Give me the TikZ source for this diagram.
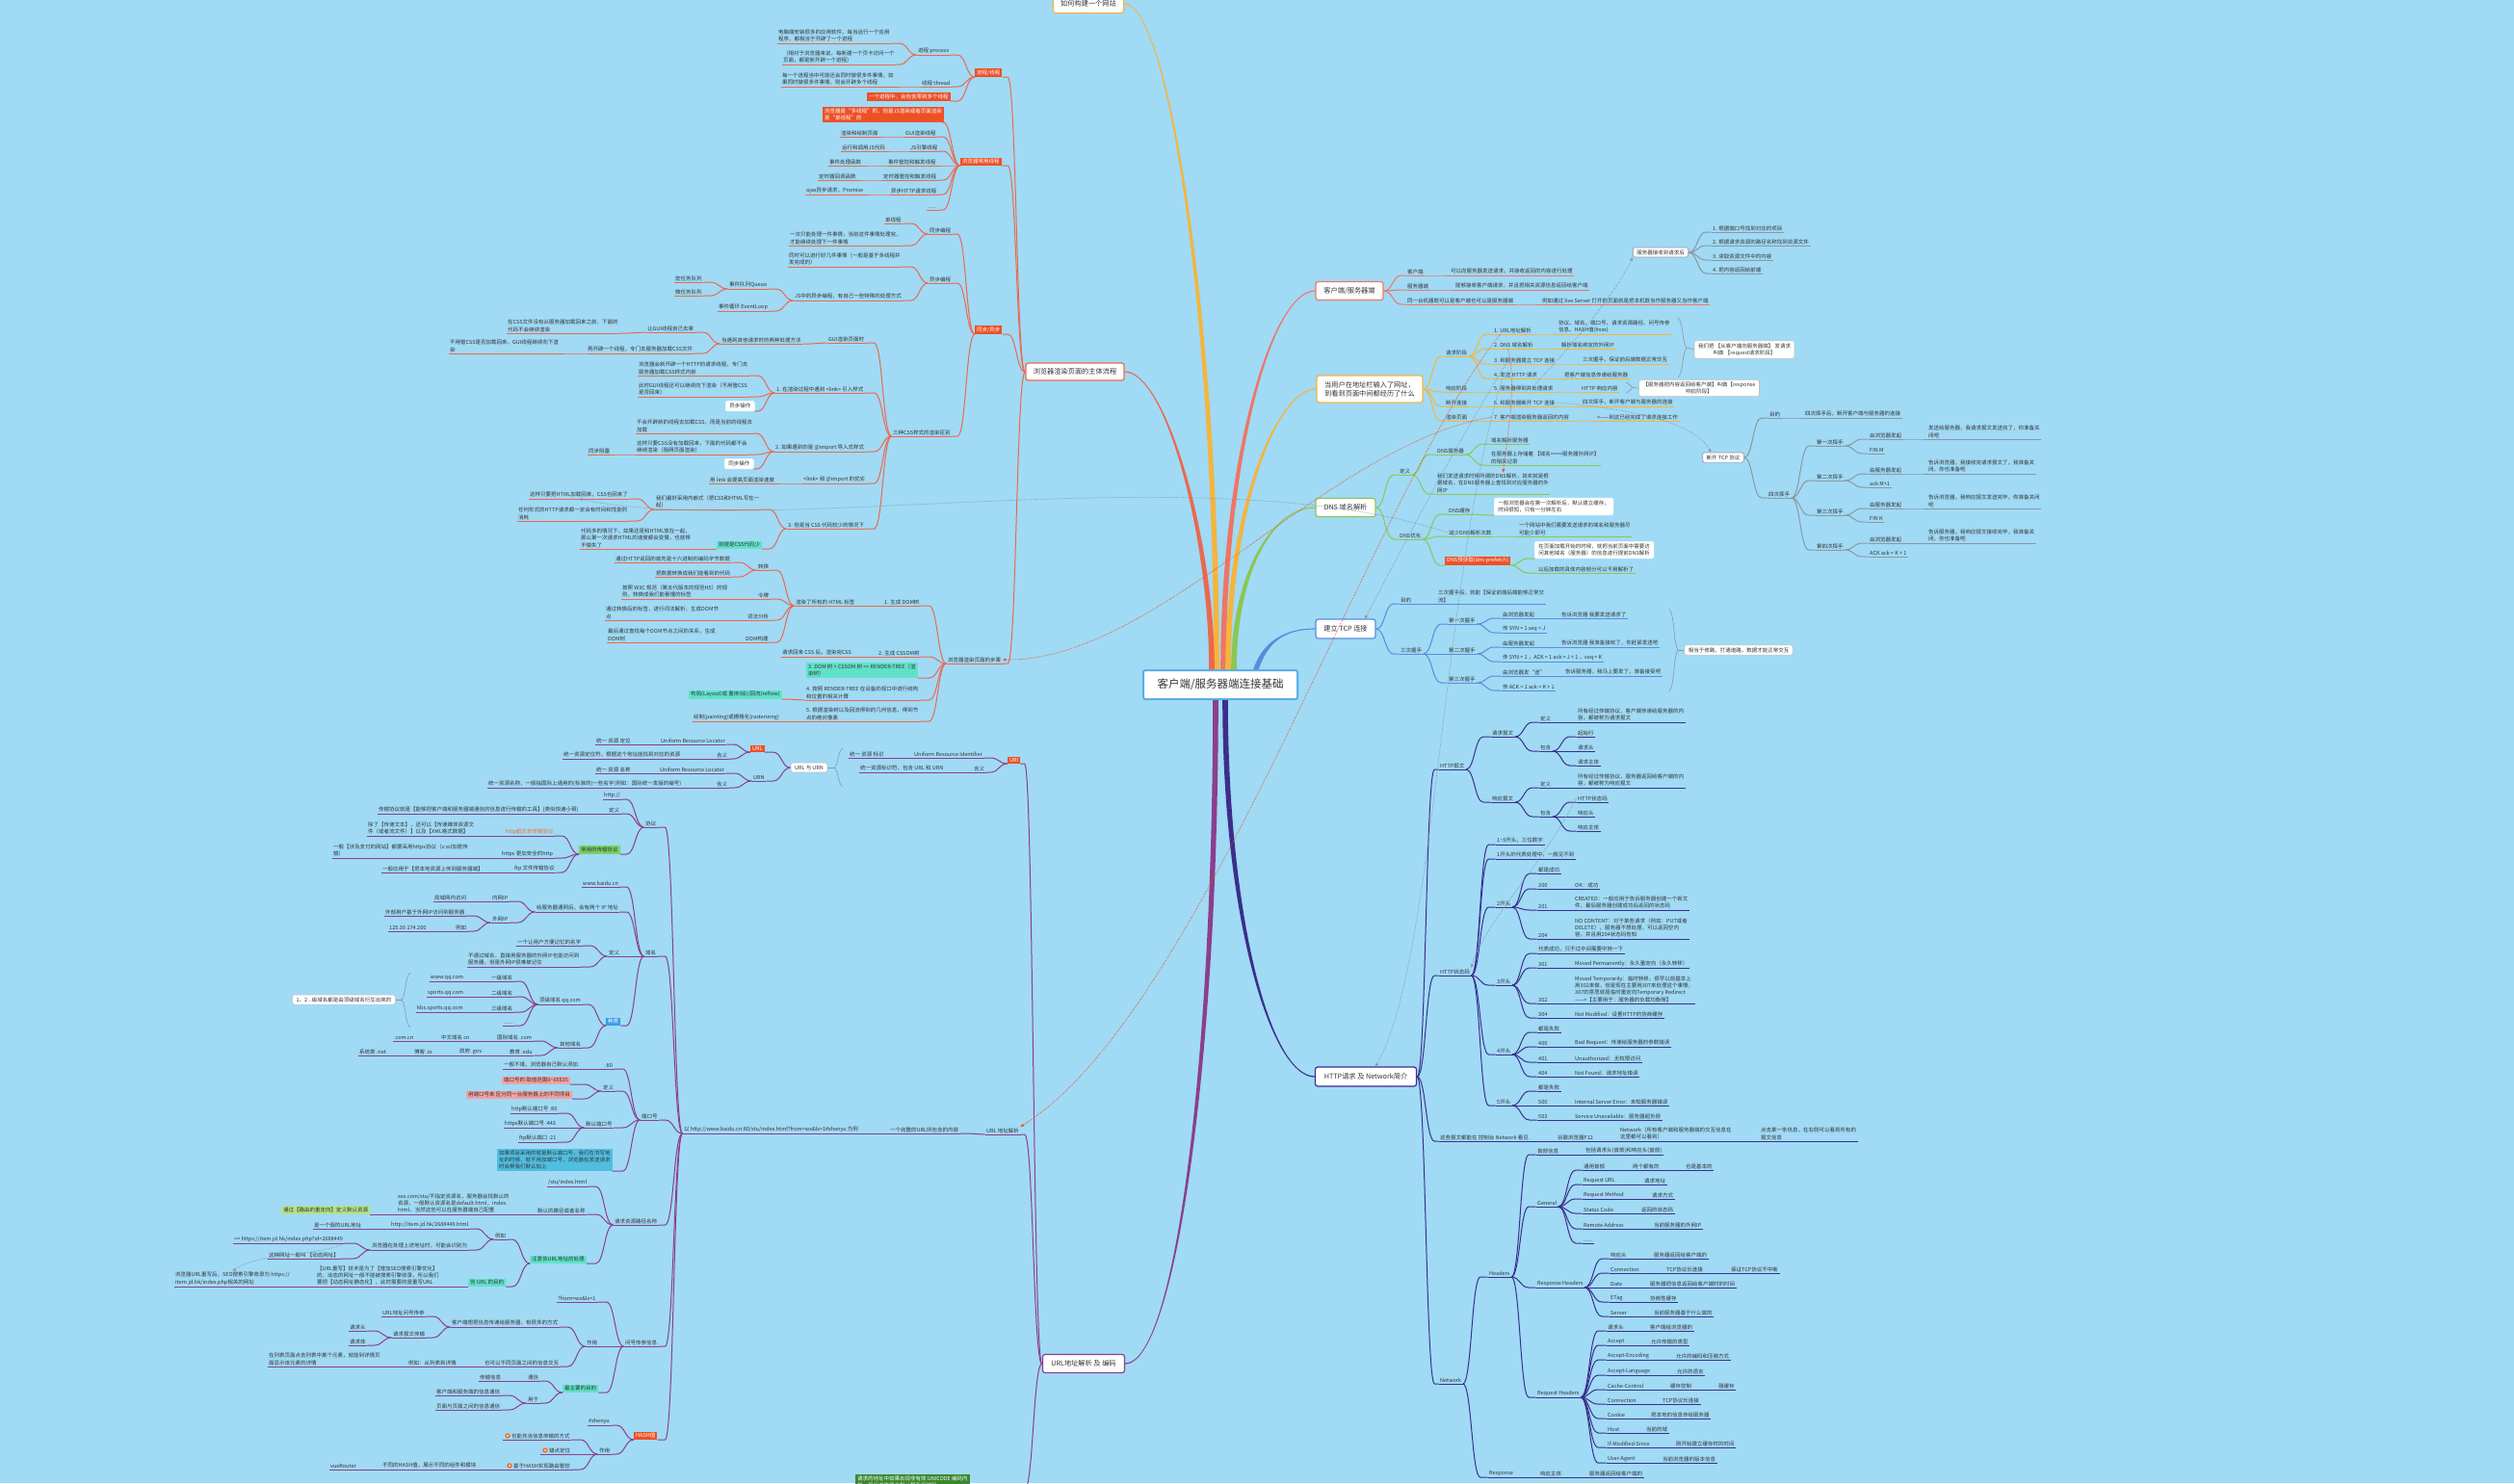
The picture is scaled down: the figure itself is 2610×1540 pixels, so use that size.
\documentclass[tikz,border=0pt]{standalone}
\usepackage{fontspec}
\setmainfont{Noto Sans CJK SC}
\usetikzlibrary{calc,arrows.meta}

\definecolor{bg}{RGB}{160,218,245}
\definecolor{txt}{RGB}{51,51,51}
\definecolor{brred}{RGB}{236,104,78}
\definecolor{boxred}{RGB}{238,80,38}
\definecolor{salmon}{RGB}{239,117,102}
\definecolor{yel}{RGB}{245,180,60}
\definecolor{grn}{RGB}{140,198,85}
\definecolor{blu}{RGB}{88,140,218}
\definecolor{navy}{RGB}{60,46,140}
\definecolor{purp}{RGB}{140,62,140}
\definecolor{tealbox}{RGB}{96,226,200}
\definecolor{pinkbox}{RGB}{245,160,160}
\definecolor{cyanbox}{RGB}{80,190,225}
\definecolor{lgbox}{RGB}{180,225,140}
\definecolor{gbox}{RGB}{120,210,100}
\definecolor{bbox}{RGB}{60,155,230}
\definecolor{dgbox}{RGB}{58,135,50}
\definecolor{gry}{RGB}{140,150,160}
\definecolor{cenb}{RGB}{90,175,230}
\definecolor{orng}{RGB}{240,110,40}

\newcommand\smtxt{\fontsize{5.5}{7.2}\selectfont}
% left and right branch connectors, parent -> child
\newcommand\lcon[2]{\draw[cn] (#1.south west) .. controls +(-9,0) and +(9,0) .. ($(#1.south west |- #2.south east)+(-18,0)$) -- (#2.south east);}
\newcommand\rcon[2]{\draw[cn] (#1.south east) .. controls +(9,0) and +(-9,0) .. ($(#1.south east |- #2.south west)+(18,0)$) -- (#2.south west);}
% tapered main branch: colour, start, control 1, control 2, end node anchor, end half width
\newcommand\branchfill[6]{\fill[#1] ($#2+(-2.8,0)$) .. controls +#3 and +#4 .. ($(#5)+(0,#6)$) -- ($(#5)-(0,#6)$) .. controls +#4 and +#3 .. ($#2+(2.8,0)$) -- cycle;}

\tikzset{
  tp/.style={anchor=south west, xshift=-1.5pt, inner xsep=1.5pt, inner ysep=1.3pt, font=\smtxt, text=txt, align=left,
    append after command={(\tikzlastnode.south west) edge[ul] (\tikzlastnode.south east)}},
  ul/.style={draw=br, line width=1pt},
  cn/.style={draw=br, line width=1pt},
  bx/.style={anchor=south west, fill=#1, inner xsep=2pt, inner ysep=1.6pt, font=\smtxt, text=txt, align=left},
  rbx/.style={bx=boxred, text=white},
  wbx/.style={anchor=south west, fill=white, draw=#1, line width=.6pt, rounded corners=1.5pt, inner xsep=4pt, inner ysep=2.5pt, font=\smtxt, text=txt, align=left},
  lone/.style={fill=white, draw=#1, line width=1.2pt, rounded corners=2.5pt, font=\fontsize{7.2}{9}\selectfont, text=txt, inner sep=0pt, align=left},
  jn/.style={inner sep=0pt, minimum size=0pt},
  rel/.style={densely dotted, line width=.7pt, -{Triangle[length=3.5pt,width=3pt]}},
  brk/.style={draw=gry, line width=.6pt},
}

\begin{document}
\begin{tikzpicture}[x=1pt,y=-1pt]
\fill[bg] (0,0) rectangle (2610,1540);
\useasboundingbox (0,0) rectangle (2610,1540);

\node[fill=white, draw=cenb, line width=2pt, rounded corners=2pt, minimum width=160pt, minimum height=30pt, text=txt, font=\fontsize{11.5}{13}\selectfont] (root) at (1267,711) {客户端/服务器端连接基础};

%% ---------- 浏览器渲染页面的主体流程 ----------
\begin{scope}
\colorlet{br}{brred}
\node[lone=brred, minimum width=102pt, minimum height=18pt] (br) at (1116,386) {浏览器渲染页面的主体流程};
\node[jn] (brL) at (br.west) {};
\node[rbx] (pt) at (1012,80) {进程/线程};
\node[rbx] (bt) at (997,172) {浏览器常用线程};
\node[rbx] (sy) at (1012,347) {同步/异步};
\node[tp] (css) at (927,453) {三种CSS样式的渲染区别};
\node[tp] (stp) at (984,689) {浏览器渲染页面的步骤};

\node[tp] (pp) at (953,57) {进程 process};
\node[tp] (pth) at (957,90) {线程 thread};
\node[rbx] (pz) at (900,105) {一个进程中，会包含零到多个线程};
\node[tp] (pp1) at (808,45) {电脑端安装很多的应用软件，每当运行一个应用\\程序，都相当于开辟了一个进程};
\node[tp] (pp2) at (813,67) {（相对于浏览器来说，每新建一个页卡访问一个\\页面，都是新开辟一个进程）};
\node[tp] (pth1) at (812,90) {每一个进程当中可能还会同时做很多件事情，如\\果同时做很多件事情，则会开辟多个线程};

\node[rbx] (bt0) at (854,127) {浏览器是“多线程”的，但是JS渲染或者页面渲染\\是“单线程”的};
\node[tp] (bt1) at (940,142) {GUI渲染线程};
\node[tp] (bt2) at (945,157) {JS引擎线程};
\node[tp] (bt3) at (922,172) {事件管控和触发线程};
\node[tp] (bt4) at (917,187) {定时器管控和触发线程};
\node[tp] (bt5) at (925,202) {异步HTTP请求线程};
\node[tp] (bt6) at (963,218) {......};
\node[tp] (bt1a) at (873,142) {渲染和绘制页面};
\node[tp] (bt2a) at (874,157) {运行和调用JS代码};
\node[tp] (bt3a) at (861,172) {事件处理函数};
\node[tp] (bt4a) at (850,187) {定时器回调函数};
\node[tp] (bt5a) at (837,202) {ajax异步请求，Promise};

\node[tp] (sy1) at (965,243) {同步编程};
\node[tp] (sy2) at (965,294) {异步编程};
\node[tp] (sy1a) at (919,232) {单线程};
\node[tp] (sy1b) at (820,255) {一次只能处理一件事情，当前这件事情处理完，\\才能继续处理下一件事情};
\node[tp] (sy2a) at (819,277) {同时可以进行好几件事情（一般是基于多线程并\\发完成的）};
\node[tp] (sy2b) at (825,312) {JS中的异步编程，有自己一些特殊的处理方式};
\node[tp] (q1) at (757,300) {事件队列Queue};
\node[tp] (q2) at (746,323) {事件循环 EventLoop};
\node[tp] (q1a) at (701,293) {宏任务队列};
\node[tp] (q1b) at (701,307) {微任务队列};

\node[tp] (c0) at (860,356) {GUI渲染页面时};
\node[tp] (c1) at (806,408) {1. 在渲染过程中遇到 <link> 引入样式};
\node[tp] (c2) at (805,469) {2. 如果遇到的是 @import 导入式样式};
\node[tp] (c3) at (834,502) {<link> 和 @import 的优劣};
\node[tp] (c4) at (818,549) {3. 但是当 CSS 代码较少的情况下};
\node[tp] (c0a) at (749,357) {当遇到其他请求时的两种处理方法};
\node[tp] (c0a1) at (672,345) {让GUI线程自己去拿};
\node[tp] (c0a2) at (610,367) {再开辟一个线程，专门去服务器加载CSS文件};
\node[tp] (c0a1a) at (527,346) {在CSS文件没有从服务器加载回来之前，下面的\\代码不会继续渲染};
\node[tp] (c0a2a) at (467,367) {不用管CSS是否加载回来，GUI线程继续向下渲\\染};
\node[tp] (c1a) at (663,390) {浏览器会新开辟一个HTTP的请求线程，专门去\\服务器加载CSS样式内容};
\node[tp] (c1b) at (663,412) {此时GUI线程还可以继续向下渲染（不用管CSS\\是否回来）};
\node[wbx=white] (c1c) at (753,427) {异步操作};
\node[tp] (c2a) at (661,450) {不会开辟新的线程去加载CSS，而是当前的线程去\\加载};
\node[tp] (c2b) at (661,472) {这样只要CSS没有加载回来，下面的代码都不会\\继续渲染（阻碍页面渲染）};
\node[wbx=white] (c2c) at (752,487) {同步操作};
\node[tp] (c2b1) at (611,472) {同步阻塞};
\node[tp] (c3a) at (737,502) {用 link 会提高页面渲染速度};
\node[tp] (c4a) at (681,529) {我们最好采用内嵌式（把CSS和HTML写在一\\起）};
\node[bx=tealbox] (c4b) at (744,570) {前提是CSS代码少};
\node[tp] (c4a1) at (550,518) {这样只要把HTML加载回来，CSS也回来了};
\node[tp] (c4a2) at (538,541) {任何形式的HTTP请求都一定会有时间和性能的\\消耗};
\node[tp] (c4b1) at (603,570) {代码多的情况下，如果还是和HTML放在一起，\\那么第一次请求HTML的速度都会变慢，也就得\\不偿失了};

\node[tp] (s1) at (918,629) {1. 生成 DOM树};
\node[tp] (s2) at (912,682) {2. 生成 CSSOM树};
\node[bx=tealbox] (s3) at (837,704) {3. DOM 树 + CSSOM 树 => RENDER-TREE（渲\\染树）};
\node[tp] (s4) at (837,727) {4. 按照 RENDER-TREE 在设备的视口中进行结构\\和位置的相关计算};
\node[tp] (s5) at (837,749) {5. 根据渲染树以及回流得到的几何信息，得到节\\点的绝对像素};
\node[tp] (s1a) at (826,629) {渲染了所有的 HTML 标签};
\node[tp] (s1a1) at (787,592) {转换};
\node[tp] (s1a2) at (787,622) {令牌};
\node[tp] (s1a3) at (776,644) {词法分析};
\node[tp] (s1a4) at (774,667) {DOM构建};
\node[tp] (t1) at (639,584) {通过HTTP返回的首先是十六进制的编码字节数据};
\node[tp] (t2) at (681,599) {把数据转换成我们能看到的代码};
\node[tp] (t3) at (646,622) {按照 W3C 规范（第五代版本的规范H5）的规\\则，转换成我们能看懂的标签};
\node[tp] (t4) at (629,644) {通过转换后的标签，进行词法解析，生成DOM节\\点};
\node[tp] (t5) at (631,667) {最后通过查找每个DOM节点之间的关系，生成\\DOM树};
\node[tp] (s2a) at (812,682) {请求回来 CSS 后，渲染完CSS};
\node[bx=tealbox] (s4a) at (715,726) {布局(Layout)或 重排(绘)/回流(reflow)};
\node[tp] (s5a) at (720,749) {绘制(painting)或栅格化(rasterizing)};

\foreach \pa/\ch in {brL/pt,brL/bt,brL/sy,brL/stp,pt/pp,pt/pth,pt/pz,pp/pp1,pp/pp2,pth/pth1,
  bt/bt0,bt/bt1,bt/bt2,bt/bt3,bt/bt4,bt/bt5,bt/bt6,bt1/bt1a,bt2/bt2a,bt3/bt3a,bt4/bt4a,bt5/bt5a,
  sy/sy1,sy/sy2,sy/css,sy1/sy1a,sy1/sy1b,sy2/sy2a,sy2/sy2b,sy2b/q1,sy2b/q2,q1/q1a,q1/q1b,
  css/c0,css/c1,css/c2,css/c3,css/c4,c0/c0a,c0a/c0a1,c0a/c0a2,c0a1/c0a1a,c0a2/c0a2a,
  c1/c1a,c1/c1b,c1/c1c,c2/c2a,c2/c2b,c2/c2c,c2b/c2b1,c3/c3a,c4/c4a,c4/c4b,c4a/c4a1,c4a/c4a2,c4b/c4b1,
  stp/s1,stp/s2,stp/s3,stp/s4,stp/s5,s1/s1a,s1a/s1a1,s1a/s1a2,s1a/s1a3,s1a/s1a4,
  s1a1/t1,s1a1/t2,s1a2/t3,s1a3/t4,s1a4/t5,s2/s2a,s4/s4a,s5/s5a}{\lcon{\pa}{\ch}}
\end{scope}

%% ---------- URL地址解析 及 编码 ----------
\begin{scope}
\colorlet{br}{purp}
\node[lone=purp, minimum width=85pt, minimum height=19pt] (url) at (1125,1416) {URL地址解析 及 编码};
\node[jn] (urlL) at (url.west) {};
\node[rbx] (uri) at (1046,793) {URI};
\node[tp] (ua) at (1024,1178) {URL 地址解析};
\node[bx=dgbox, text=white, anchor=north west] (uc) at (888,1531) {请求的地址中如果出现非有效 UNICODE 编码内\\容，现代浏览器会默认帮我们编码};
\node[tp] (uri1) at (949,787) {Uniform Resource Identifier};
\node[tp] (uri2) at (1011,802) {含义};
\node[tp] (uri1a) at (882,787) {统一 资源 标识};
\node[tp] (uri2a) at (893,802) {统一资源标识符，包含 URL 和 URN};

\node[wbx=gry!60, anchor=center] (urlurn) at (840,797) {URL 与 URN};
\node[jn] (uuL) at (urlurn.west) {};
\node[rbx] (urlb) at (779,781) {URL};
\node[tp] (urn) at (782,811) {URN};
\node[tp] (urlb1) at (686,773) {Uniform Resource Locator};
\node[tp] (urlb2) at (744,788) {含义};
\node[tp] (urlb1a) at (619,773) {统一 资源 定位};
\node[tp] (urlb2a) at (585,788) {统一资源定位符，根据这个地址能找到对应的资源};
\node[tp] (urn1) at (685,803) {Uniform Resource Locator};
\node[tp] (urn2) at (744,818) {含义};
\node[tp] (urn1a) at (619,803) {统一 资源 名称};
\node[tp] (urn2a) at (507,818) {统一资源名称，一般指国际上通用的(标准的)一些名字(例如：国际统一发版的编号)};

\node[tp] (ua1) at (924,1177) {一个完整的URL所包含的内容};
\node[tp] (ua2) at (710,1177) {以 http://www.baidu.cn:80/stu/index.html?from=wx\&lx=1\#zhenyu 为例};
\node[tp] (p1) at (670,859) {协议};
\node[tp] (p2) at (670,993) {域名};
\node[tp] (p3) at (666,1163) {端口号};
\node[tp] (p4) at (638,1272) {请求资源路径名称};
\node[tp] (p5) at (649,1398) {问号传参信息};
\node[rbx] (p6) at (658,1495) {HASH值};

\node[tp] (p1a) at (627,830) {http://};
\node[tp] (p1b) at (632,845) {定义};
\node[bx=gbox] (p1c) at (601,887) {常用的传输协议};
\node[tp] (p1b1) at (393,845) {传输协议就是【能够把客户端和服务器端通信的信息进行传输的工具】(类似快递小哥)};
\node[tp, text=orng] (h1) at (525,868) {http超文本传输协议};
\node[tp] (h2) at (521,891) {https 更加安全的http};
\node[tp] (h3) at (534,906) {ftp 文件传输协议};
\node[tp] (h1a) at (382,868) {除了【传递文本】，还可以【传递媒体资源文\\件（或者流文件）】以及【XML格式数据】};
\node[tp] (h2a) at (346,891) {一般【涉及支付的网站】都要采用https协议（s:ssl加密传\\输）};
\node[tp] (h3a) at (397,906) {一般应用于【把本地资源上传到服务器端】};

\node[tp] (d1) at (605,921) {www.baidu.cn};
\node[tp] (d2) at (557,947) {给服务器通网后，会有两个 IP 地址};
\node[tp] (d3) at (632,993) {定义};
\node[bx=bbox, text=white] (d4) at (629,1065) {种类};
\node[tp] (d2a) at (511,936) {内网IP};
\node[tp] (d2b) at (511,958) {外网IP};
\node[tp] (d2a1) at (451,936) {局域网内访问};
\node[tp] (d2b1) at (400,951) {外部用户基于外网IP访问到服务器};
\node[tp] (d2b2) at (473,967) {例如};
\node[tp] (d2b2a) at (404,967) {125.39.174.200};
\node[tp] (d3a) at (537,982) {一个让用户方便记忆的名字};
\node[tp] (d3b) at (486,1004) {不通过域名，直接用服务器的外网IP也能访问到\\服务器，但是外网IP很难被记住};
\node[tp] (k1) at (560,1043) {顶级域名 qq.com};
\node[tp] (k2) at (581,1088) {其他域名};
\node[tp] (k1a) at (510,1019) {一级域名};
\node[tp] (k1b) at (510,1035) {二级域名};
\node[tp] (k1c) at (510,1051) {三级域名};
\node[tp] (k1d) at (523,1065) {......};
\node[tp] (k1a1) at (447,1019) {www.qq.com};
\node[tp] (k1b1) at (444,1035) {sports.qq.com};
\node[tp] (k1c1) at (433,1051) {kbs.sports.qq.com};
\node[wbx=gry!60, anchor=center] (dsum) at (357,1038) {1、2...级域名都是由顶级域名衍生出来的};
\node[tp] (k2a) at (516,1081) {国际域名 .com};
\node[tp] (k2a1) at (458,1081) {中文域名 cn};
\node[tp] (k2a2) at (409,1081) {.com.cn};
\node[tp] (k2b) at (529,1096) {教育 .edu};
\node[tp] (k2b1) at (477,1096) {政府 .gov};
\node[tp] (k2b2) at (430,1096) {博客 .io};
\node[tp] (k2b3) at (373,1096) {系统类 .net};

\node[tp] (o1) at (628,1110) {:80};
\node[tp] (o2) at (626,1133) {定义};
\node[tp] (o3) at (608,1171) {默认端口号};
\node[bx=cyanbox] (o4) at (516,1216) {如果项目采用的就是默认端口号，我们在书写地\\址的时候，就不用加端口号，浏览器在发送请求\\时会帮我们默认加上};
\node[tp] (o1a) at (523,1110) {一般不填，浏览器自己默认添加};
\node[bx=pinkbox] (o2a) at (521,1126) {端口号的 取值范围0\textasciitilde65535};
\node[bx=pinkbox] (o2b) at (484,1141) {用端口号来 区分同一台服务器上的不同项目};
\node[tp] (o3a) at (531,1156) {http默认端口号 :80};
\node[tp] (o3b) at (524,1171) {https默认端口号 :443};
\node[tp] (o3c) at (539,1186) {ftp默认端口 :21};

\node[tp] (r1) at (569,1232) {/stu/index.html};
\node[tp] (r2) at (558,1261) {默认的路径或者名称};
\node[bx=tealbox] (r3) at (550,1312) {注意伪URL地址的处理};
\node[tp] (r2a) at (413,1261) {xxx.com/stu/不指定资源名，服务器会找默认的\\资源，一般默认资源名是default.html，index.\\html，当然这些可以在服务器端自己配置};
\node[bx=lgbox] (r2a1) at (292,1261) {通过【路由的重定向】定义默认资源};
\node[tp] (r3a) at (514,1287) {例如};
\node[bx=tealbox] (r3b) at (486,1336) {伪 URL 的目的};
\node[tp] (r3a1) at (406,1276) {http://item.jd.hk/2688449.html};
\node[tp] (r3a1a) at (326,1276) {是一个假的URL地址};
\node[tp] (r3a2) at (386,1298) {浏览器在处理上述地址时，可能会识别为};
\node[tp] (r3a2a) at (243,1291) {=> https://item.jd.hk/index.php?id=2688449};
\node[tp] (r3a2b) at (279,1307) {这种网址一般叫 【动态网址】};
\node[tp] (r3b1) at (329,1336) {【URL重写】技术是为了【增加SEO搜索引擎优化】\\的，动态的网址一般不能被搜索引擎收录，所以我们\\要把【动态网址静态化】，此时需要的是重写URL};
\node[tp] (r3b1a) at (182,1336) {浏览器URL重写后，SEO搜索引擎收录为 https://\\item.jd.hk/index.php相关的网址};

\node[tp] (w1) at (579,1352) {?from=wx\&lx=1};
\node[tp] (w2) at (609,1398) {作用};
\node[bx=tealbox] (w3) at (584,1446) {最主要的目的};
\node[tp] (w2a) at (469,1378) {客户端想把信息传递给服务器，有很多的方式};
\node[tp] (w2a1) at (397,1367) {URL地址问号传参};
\node[tp] (w2a2) at (408,1389) {请求报文传输};
\node[tp] (w2a2a) at (363,1382) {请求头};
\node[tp] (w2a2b) at (363,1397) {请求体};
\node[tp] (w2b) at (503,1419) {也可以不同页面之间的信息交互};
\node[tp] (w2b1) at (424,1419) {例如：从列表到详情};
\node[tp] (w2b1a) at (279,1419) {在列表页面点击列表中某个元素，就能到详情页\\面显示该元素的详情};
\node[tp] (w3a) at (548,1434) {通信};
\node[tp] (w3a1) at (498,1434) {传输信息};
\node[tp] (w3b) at (548,1457) {用于};
\node[tp] (w3b1) at (453,1449) {客户端和服务端的信息通信};
\node[tp] (w3b2) at (453,1464) {页面与页面之间的信息通信};

\node[tp] (x1) at (611,1480) {\#zhenyu};
\node[tp] (x2) at (622,1510) {作用};
\node[tp] (x2a) at (523,1495) {\hspace*{8pt}也能充当信息传输的方式};
\node[tp] (x2b) at (562,1510) {\hspace*{8pt}锚点定位};
\node[tp] (x2c) at (525,1526) {\hspace*{8pt}基于HASH实现路由管控};
\node[tp] (x2c1) at (397,1526) {不同的HASH值，展示不同的组件和模块};
\node[tp] (x2c2) at (343,1526) {vueRouter};
\foreach \nn in {x2a,x2b,x2c}{
  \fill[orng] ($(\nn.west)+(5.5,0)$) circle (2.7pt);
  \fill[white] ($(\nn.west)+(5.5,0)$) circle (1pt);}

\foreach \pa/\ch in {urlL/uri,urlL/ua,urlL/uc,uri/uri1,uri/uri2,uri1/uri1a,uri2/uri2a,
  uuL/urlb,uuL/urn,urlb/urlb1,urlb/urlb2,urlb1/urlb1a,urlb2/urlb2a,urn/urn1,urn/urn2,urn1/urn1a,urn2/urn2a,
  ua/ua1,ua1/ua2,ua2/p1,ua2/p2,ua2/p3,ua2/p4,ua2/p5,ua2/p6,
  p1/p1a,p1/p1b,p1/p1c,p1b/p1b1,p1c/h1,p1c/h2,p1c/h3,h1/h1a,h2/h2a,h3/h3a,
  p2/d1,p2/d2,p2/d3,p2/d4,d2/d2a,d2/d2b,d2a/d2a1,d2b/d2b1,d2b/d2b2,d2b2/d2b2a,d3/d3a,d3/d3b,
  d4/k1,d4/k2,k1/k1a,k1/k1b,k1/k1c,k1/k1d,k1a/k1a1,k1b/k1b1,k1c/k1c1,
  k2/k2a,k2/k2b,k2a/k2a1,k2a1/k2a2,k2b/k2b1,k2b1/k2b2,k2b2/k2b3,
  p3/o1,p3/o2,p3/o3,p3/o4,o1/o1a,o2/o2a,o2/o2b,o3/o3a,o3/o3b,o3/o3c,
  p4/r1,p4/r2,p4/r3,r2/r2a,r2a/r2a1,r3/r3a,r3/r3b,r3a/r3a1,r3a/r3a2,r3a1/r3a1a,r3a2/r3a2a,r3a2/r3a2b,r3b/r3b1,r3b1/r3b1a,
  p5/w1,p5/w2,p5/w3,w2/w2a,w2/w2b,w2a/w2a1,w2a/w2a2,w2a2/w2a2a,w2a2/w2a2b,w2b/w2b1,w2b1/w2b1a,
  w3/w3a,w3/w3b,w3a/w3a1,w3b/w3b1,w3b/w3b2,
  p6/x1,p6/x2,x2/x2a,x2/x2b,x2/x2c,x2c/x2c1,x2c1/x2c2}{\lcon{\pa}{\ch}}

% summaries
\draw[brk] (875,777) .. controls (869,781) and (871,794) .. (866,797) .. controls (871,800) and (869,813) .. (875,817);
\draw[brk] (866,797) -- (urlurn.east);
\draw[brk] (426,1010) .. controls (420,1015) and (422,1032) .. (417,1038) .. controls (422,1044) and (420,1062) .. (426,1067);
\draw[brk] (417,1038) -- (dsum.east);
\draw[rel, draw=gry] (r3a2a.south east) .. controls (330,1305) and (270,1300) .. (r3b1a.north);
\end{scope}

%% ---------- 客户端/服务器端 ----------
\begin{scope}
\colorlet{br}{salmon}
\node[lone=salmon, minimum width=70pt, minimum height=19pt] (cs) at (1401,302) {客户端/服务器端};
\node[jn] (csR) at (cs.east) {};
\node[tp] (cs1) at (1461,286) {客户端};
\node[tp] (cs2) at (1461,301) {服务器端};
\node[tp] (cs3) at (1461,316) {同一台机器既可以是客户端也可以是服务器端};
\node[tp] (cs1a) at (1506,286) {可以向服务器发送请求，并接收返回的内容进行处理};
\node[tp] (cs2a) at (1511,301) {能够接收客户端请求，并且把相关资源信息返回给客户端};
\node[tp] (cs3a) at (1601,316) {例如通过 live Server 打开的页面就是把本机既当作服务器又当作客户端};
\foreach \pa/\ch in {csR/cs1,csR/cs2,csR/cs3,cs1/cs1a,cs2/cs2a,cs3/cs3a}{\rcon{\pa}{\ch}}
\end{scope}

%% ---------- 当用户在地址栏输入了网址 ----------
\begin{scope}
\colorlet{br}{yel}
\node[lone=yel, minimum width=73pt, minimum height=19pt] (web) at (1130,4) {如何构建一个网站};
\node[lone=yel, minimum width=110pt, minimum height=28pt] (pr) at (1422,404) {当用户在地址栏输入了网址，\\到看到页面中间都经历了什么};
\node[jn] (prR) at (pr.east) {};
\node[tp] (pr1) at (1501,370) {请求阶段};
\node[tp] (pr2) at (1501,407) {响应阶段};
\node[tp] (pr3) at (1501,422) {断开连接};
\node[tp] (pr4) at (1501,437) {渲染页面};
\node[tp] (u1) at (1551,347) {1. URL地址解析};
\node[tp] (u2) at (1551,362) {2. DNS 域名解析};
\node[tp] (u3) at (1551,378) {3. 和服务器建立 TCP 连接};
\node[tp] (u4) at (1551,393) {4. 发送 HTTP 请求};
\node[tp] (u5) at (1551,407) {5. 服务器得到并处理请求};
\node[tp] (u6) at (1551,422) {6. 和服务器断开 TCP 连接};
\node[tp] (u7) at (1551,437) {7. 客户端渲染服务器返回的内容};
\node[tp] (u1a) at (1618,347) {协议、域名、端口号、请求资源路径、问号传参\\信息、HASH值(\#xxx)};
\node[tp] (u2a) at (1621,362) {解析域名绑定的外网IP};
\node[tp] (u3a) at (1643,378) {三次握手，保证前后端数据正常交互};
\node[tp] (u4a) at (1624,393) {把客户端信息传递给服务器};
\node[tp] (u5a) at (1642,407) {HTTP 响应内容};
\node[tp] (u6a) at (1643,422) {四次挥手，断开客户端与服务器的连接};
\node[tp] (u7a) at (1658,437) {<——到这已经完成了请求连接工作};
\node[wbx=gry!60, anchor=center, align=center] (sreq) at (1811,363) {我们把 【从客户端向服务器端】 发请求\\叫做 【request请求阶段】};
\node[wbx=gry!60, anchor=center, align=center] (sres) at (1764,403) {【服务器把内容返回给客户端】叫做【response\\响应阶段】};
\foreach \pa/\ch in {prR/pr1,prR/pr2,prR/pr3,prR/pr4,pr1/u1,pr1/u2,pr1/u3,pr1/u4,pr2/u5,pr3/u6,pr4/u7,
  u1/u1a,u2/u2a,u3/u3a,u4/u4a,u5/u5a,u6/u6a,u7/u7a}{\rcon{\pa}{\ch}}
\draw[brk] (1742,330) .. controls (1748,335) and (1746,356) .. (1751,361) .. controls (1746,366) and (1748,387) .. (1742,392);
\draw[brk] (1751,361) -- (sreq.west);
\draw[brk] (1688,397) .. controls (1693,399) and (1692,401) .. (1695,402.5) .. controls (1692,404) and (1693,406) .. (1688,408);
\draw[brk] (1695,402.5) -- (sres.west);
\end{scope}

%% ---------- DNS 域名解析 ----------
\begin{scope}
\colorlet{br}{grn}
\node[lone=grn, minimum width=62pt, minimum height=19pt] (dns) at (1397,527) {DNS 域名解析};
\node[jn] (dnsR) at (dns.east) {};
\node[tp] (n1) at (1453,493) {定义};
\node[tp] (n2) at (1453,560) {DNS优化};
\node[tp] (n1a) at (1492,472) {DNS服务器};
\node[tp] (n1a1) at (1548,461) {域名解析服务器};
\node[tp] (n1a2) at (1548,483) {在服务器上存储着 【域名<==>服务器外网IP】\\的相关记录};
\node[tp] (n1b) at (1492,513) {我们发送请求时候所谓的DNS解析，其实就是根\\据域名，在DNS服务器上查找到对应服务器的外\\网IP};
\node[tp] (n2a) at (1504,534) {DNS缓存};
\node[wbx=white] (n2a1) at (1551,535) {一般浏览器会在第一次解析后，默认建立缓存，\\时间很短，只有一分钟左右};
\node[tp] (n2b) at (1504,557) {减少DNS解析次数};
\node[tp] (n2b1) at (1577,557) {一个网站中我们需要发送请求的域名和服务器尽\\可能少即可};
\node[rbx] (n2c) at (1500,587) {DNS预获取(dns-prefetch)};
\node[wbx=white] (n2c1) at (1593,580) {在页面加载开始的时候，就把当前页面中需要访\\问其他域名（服务器）的信息进行提前DNS解析};
\node[tp] (n2c2) at (1597,595) {以后加载的具体内容部分可以不用解析了};
\foreach \pa/\ch in {dnsR/n1,dnsR/n2,n1/n1a,n1/n1b,n1a/n1a1,n1a/n1a2,n2/n2a,n2/n2b,n2/n2c,
  n2a/n2a1,n2b/n2b1,n2c/n2c1,n2c/n2c2}{\rcon{\pa}{\ch}}
\end{scope}

%% ---------- 建立 TCP 连接 ----------
\begin{scope}
\colorlet{br}{blu}
\node[lone=blu, minimum width=62pt, minimum height=20pt] (tcp) at (1397,653) {建立 TCP 连接};
\node[jn] (tcpR) at (tcp.east) {};
\node[tp] (e1) at (1454,627) {目的};
\node[tp] (e1a) at (1493,627) {三次握手后，就能【保证前端后端能够正常交\\流】};
\node[tp] (e2) at (1454,679) {三次握手};
\node[tp] (e2a) at (1504,648) {第一次握手};
\node[tp] (e2b) at (1504,679) {第二次握手};
\node[tp] (e2c) at (1504,709) {第三次握手};
\node[tp] (e2a1) at (1560,642) {由浏览器发起};
\node[tp] (e2a2) at (1560,657) {传 SYN = 1 seq = J};
\node[tp] (e2a1a) at (1621,642) {告诉浏览器 我要发送请求了};
\node[tp] (e2b1) at (1560,672) {由服务器发起};
\node[tp] (e2b2) at (1560,687) {传 SYN = 1 ，ACK = 1 ack = J + 1 ，seq = K};
\node[tp] (e2b1a) at (1621,672) {告诉浏览器 我准备接收了，你赶紧发送吧};
\node[tp] (e2c1) at (1560,702) {由浏览器发“送”};
\node[tp] (e2c2) at (1560,717) {传 ACK = 1 ack = K + 1};
\node[tp] (e2c1a) at (1625,702) {告诉服务器，我马上要发了，准备接受吧};
\node[wbx=gry!60, anchor=center] (stcp) at (1805,675) {相当于修路，打通道路，数据才能正常交互};
\foreach \pa/\ch in {tcpR/e1,tcpR/e2,e1/e1a,e2/e2a,e2/e2b,e2/e2c,e2a/e2a1,e2a/e2a2,e2a1/e2a1a,
  e2b/e2b1,e2b/e2b2,e2b1/e2b1a,e2c/e2c1,e2c/e2c2,e2c1/e2c1a}{\rcon{\pa}{\ch}}
\draw[brk] (1733,632) .. controls (1739,640) and (1737,668) .. (1742,675) .. controls (1737,682) and (1739,710) .. (1733,718);
\draw[brk] (1742,675) -- (stcp.west);
\end{scope}

%% ---------- HTTP请求 及 Network简介 ----------
\begin{scope}
\colorlet{br}{navy}
\node[lone=navy, minimum width=105pt, minimum height=20pt] (ht) at (1418,1118) {HTTP请求 及 Network简介};
\node[jn] (htR) at (ht.east) {};
\node[tp] (g1) at (1495,799) {HTTP报文};
\node[tp] (g2) at (1495,1013) {HTTP状态码};
\node[tp] (g3) at (1495,1185) {这些报文都能在 控制台 Network 看见};
\node[tp] (g4) at (1495,1437) {Network};
\node[tp] (g1a) at (1549,765) {请求报文};
\node[tp] (g1a1) at (1599,750) {定义};
\node[tp] (g1a1a) at (1638,750) {所有经过传输协议，客户端传递给服务器的内\\容，都被称为请求报文};
\node[tp] (g1a2) at (1599,780) {包含};
\node[tp] (g1a2a) at (1638,765) {起始行};
\node[tp] (g1a2b) at (1638,780) {请求头};
\node[tp] (g1a2c) at (1638,795) {请求主体};
\node[tp] (g1b) at (1549,833) {响应报文};
\node[tp] (g1b1) at (1599,818) {定义};
\node[tp] (g1b1a) at (1638,818) {所有经过传输协议，服务器返回给客户端的内\\容，都被称为响应报文};
\node[tp] (g1b2) at (1599,848) {包含};
\node[tp] (g1b2a) at (1638,833) {HTTP状态码};
\node[tp] (g1b2b) at (1638,848) {响应头};
\node[tp] (g1b2c) at (1638,863) {响应主体};

\node[tp] (g2a) at (1554,877) {1\textasciitilde5开头，三位数字};
\node[tp] (g2b) at (1554,892) {1开头的代表处理中，一般见不到};
\node[tp] (g2c) at (1554,942) {2开头};
\node[tp] (g2c0) at (1597,907) {都是成功};
\node[tp] (g2c1) at (1597,923) {200};
\node[tp] (g2c1a) at (1635,923) {OK：成功};
\node[tp] (g2c2) at (1597,945) {201};
\node[tp] (g2c2a) at (1635,945) {CREATED：一般应用于告诉服务器创建一个新文\\件，最后服务器创建成功后返回的状态码};
\node[tp] (g2c3) at (1597,975) {204};
\node[tp] (g2c3a) at (1635,975) {NO CONTENT：对于某些请求（例如：PUT或者\\DELETE），服务器不想处理，可以返回空内\\容，并且用204状态码告知};
\node[tp] (g2d) at (1554,1023) {3开头};
\node[tp] (g2d0) at (1597,990) {代表成功，只不过中间需要中转一下};
\node[tp] (g2d1) at (1597,1005) {301};
\node[tp] (g2d1a) at (1635,1005) {Moved Permanently：永久重定向（永久转移）};
\node[tp] (g2d2) at (1597,1042) {302};
\node[tp] (g2d2a) at (1635,1042) {Moved Temporarily：临时转移，很早以前基本上\\用302来做，但是现在主要用307来处理这个事情，\\307的意思就是临时重定向Temporary Redirect\\——>【主要用于：服务器的负载均衡等】};
\node[tp] (g2d3) at (1597,1057) {304};
\node[tp] (g2d3a) at (1635,1057) {Not Modified：设置HTTP的协商缓存};
\node[tp] (g2e) at (1554,1095) {4开头};
\node[tp] (g2e0) at (1597,1072) {都是失败};
\node[tp] (g2e1) at (1597,1087) {400};
\node[tp] (g2e1a) at (1635,1087) {Bad Request：传递给服务器的参数错误};
\node[tp] (g2e2) at (1597,1103) {401};
\node[tp] (g2e2a) at (1635,1103) {Unauthorized：无权限访问};
\node[tp] (g2e3) at (1597,1118) {404};
\node[tp] (g2e3a) at (1635,1118) {Not Found：请求地址错误};
\node[tp] (g2f) at (1554,1148) {5开头};
\node[tp] (g2f0) at (1597,1133) {都是失败};
\node[tp] (g2f1) at (1597,1148) {500};
\node[tp] (g2f1a) at (1635,1148) {Internal Server Error：未知服务器错误};
\node[tp] (g2f2) at (1597,1163) {503};
\node[tp] (g2f2a) at (1635,1163) {Service Unavailable：服务器超负荷};

\node[tp] (g3a) at (1617,1185) {谷歌浏览器F12};
\node[tp] (g3b) at (1682,1185) {Network（所有客户端和服务器端的交互信息在\\这里都可以看到）};
\node[tp] (g3c) at (1828,1185) {点击某一条信息，在右侧可以看到所有的\\报文信息};

\node[tp] (h0) at (1546,1326) {Headers};
\node[tp] (hr) at (1546,1534) {Response};
\node[tp] (hA) at (1596,1199) {首部信息};
\node[tp] (hAa) at (1646,1199) {包括请求头(首部)和响应头(首部)};
\node[tp] (hB) at (1596,1253) {General};
\node[tp] (hB1) at (1644,1215) {通用首部};
\node[tp] (hB1a) at (1695,1215) {两个都有的};
\node[tp] (hB1b) at (1750,1215) {也是基本的};
\node[tp] (hB2) at (1644,1230) {Request URL};
\node[tp] (hB2a) at (1707,1230) {请求地址};
\node[tp] (hB3) at (1644,1245) {Request Method};
\node[tp] (hB3a) at (1715,1245) {请求方式};
\node[tp] (hB4) at (1644,1260) {Status Code};
\node[tp] (hB4a) at (1704,1260) {返回的状态码};
\node[tp] (hB5) at (1644,1276) {Remote Address};
\node[tp] (hB5a) at (1717,1276) {当前服务器的外网IP};
\node[tp] (hB6) at (1644,1291) {......};
\node[tp] (hC) at (1596,1337) {Response Headers};
\node[tp] (hC1) at (1672,1307) {响应头};
\node[tp] (hC1a) at (1717,1307) {服务器返回给客户端的};
\node[tp] (hC2) at (1672,1322) {Connection};
\node[tp] (hC2a) at (1730,1322) {TCP协议长连接};
\node[tp] (hC2b) at (1797,1322) {保证TCP协议不中断};
\node[tp] (hC3) at (1672,1337) {Date};
\node[tp] (hC3a) at (1713,1337) {服务器把信息返回给客户端时的时间};
\node[tp] (hC4) at (1672,1352) {ETag};
\node[tp] (hC4a) at (1713,1352) {协商性缓存};
\node[tp] (hC5) at (1672,1367) {Server};
\node[tp] (hC5a) at (1717,1367) {当前服务器基于什么做的};
\node[tp] (hD) at (1596,1451) {Request Headers};
\node[tp] (hD1) at (1669,1382) {请求头};
\node[tp] (hD1a) at (1713,1382) {客户端给浏览器的};
\node[tp] (hD2) at (1669,1397) {Accept};
\node[tp] (hD2a) at (1714,1397) {允许传输的类型};
\node[tp] (hD3) at (1669,1412) {Accept-Encoding};
\node[tp] (hD3a) at (1740,1412) {允许的编码和压缩方式};
\node[tp] (hD4) at (1669,1428) {Accept-Language};
\node[tp] (hD4a) at (1741,1428) {允许的语言};
\node[tp] (hD5) at (1669,1443) {Cache-Control};
\node[tp] (hD5a) at (1734,1443) {缓存控制};
\node[tp] (hD5b) at (1784,1443) {强缓存};
\node[tp] (hD6) at (1669,1458) {Connection};
\node[tp] (hD6a) at (1726,1458) {TCP协议长连接};
\node[tp] (hD7) at (1669,1473) {Cookie};
\node[tp] (hD7a) at (1714,1473) {把本地的信息传给服务器};
\node[tp] (hD8) at (1669,1488) {Host};
\node[tp] (hD8a) at (1709,1488) {当前的域};
\node[tp] (hD9) at (1669,1503) {If-Modified-Since};
\node[tp] (hD9a) at (1740,1503) {刚开始建立缓存时的时间};
\node[tp] (hD10) at (1669,1519) {User-Agent};
\node[tp] (hD10a) at (1726,1519) {当前浏览器的版本信息};
\node[tp] (hr1) at (1599,1534) {响应主体};
\node[tp] (hr2) at (1650,1534) {服务器返回给客户端的};

\foreach \pa/\ch in {htR/g1,htR/g2,htR/g3,htR/g4,g1/g1a,g1/g1b,g1a/g1a1,g1a/g1a2,g1a1/g1a1a,
  g1a2/g1a2a,g1a2/g1a2b,g1a2/g1a2c,g1b/g1b1,g1b/g1b2,g1b1/g1b1a,g1b2/g1b2a,g1b2/g1b2b,g1b2/g1b2c,
  g2/g2a,g2/g2b,g2/g2c,g2/g2d,g2/g2e,g2/g2f,
  g2c/g2c0,g2c/g2c1,g2c/g2c2,g2c/g2c3,g2c1/g2c1a,g2c2/g2c2a,g2c3/g2c3a,
  g2d/g2d0,g2d/g2d1,g2d/g2d2,g2d/g2d3,g2d1/g2d1a,g2d2/g2d2a,g2d3/g2d3a,
  g2e/g2e0,g2e/g2e1,g2e/g2e2,g2e/g2e3,g2e1/g2e1a,g2e2/g2e2a,g2e3/g2e3a,
  g2f/g2f0,g2f/g2f1,g2f/g2f2,g2f1/g2f1a,g2f2/g2f2a,
  g3/g3a,g3a/g3b,g3b/g3c,g4/h0,g4/hr,h0/hA,h0/hB,h0/hC,h0/hD,hA/hAa,
  hB/hB1,hB/hB2,hB/hB3,hB/hB4,hB/hB5,hB/hB6,hB1/hB1a,hB1a/hB1b,hB2/hB2a,hB3/hB3a,hB4/hB4a,hB5/hB5a,
  hC/hC1,hC/hC2,hC/hC3,hC/hC4,hC/hC5,hC1/hC1a,hC2/hC2a,hC2a/hC2b,hC3/hC3a,hC4/hC4a,hC5/hC5a,
  hD/hD1,hD/hD2,hD/hD3,hD/hD4,hD/hD5,hD/hD6,hD/hD7,hD/hD8,hD/hD9,hD/hD10,
  hD1/hD1a,hD2/hD2a,hD3/hD3a,hD4/hD4a,hD5/hD5a,hD5a/hD5b,hD6/hD6a,hD7/hD7a,hD8/hD8a,hD9/hD9a,hD10/hD10a,
  hr/hr1,hr1/hr2}{\rcon{\pa}{\ch}}
\end{scope}

%% ---------- floating topics ----------
\begin{scope}
\colorlet{br}{gry}
\node[wbx=gry, anchor=center] (srv) at (1724,262) {服务器接收到请求后};
\node[jn] (srvR) at (srv.east) {};
\node[tp] (v1) at (1778,241) {1. 根据端口号找到对应的项目};
\node[tp] (v2) at (1778,255) {2. 根据请求资源的路径名称找到资源文件};
\node[tp] (v3) at (1778,270) {3. 读取资源文件中的内容};
\node[tp] (v4) at (1778,284) {4. 把内容返回给前端};
\node[wbx=gry, anchor=center] (fin) at (1789,475) {断开 TCP 协议};
\node[jn] (finR) at (fin.east) {};
\node[tp] (f1) at (1837,434) {目的};
\node[tp] (f1a) at (1874,434) {四次挥手后，断开客户端与服务器的连接};
\node[tp] (f2) at (1836,517) {四次挥手};
\node[tp] (f2a) at (1886,463) {第一次挥手};
\node[tp] (f2a1) at (1941,456) {由浏览器发起};
\node[tp] (f2a1a) at (2002,456) {发送给服务器，我请求报文发送完了，你准备关\\闭吧};
\node[tp] (f2a2) at (1941,471) {FIN M};
\node[tp] (f2b) at (1886,499) {第二次挥手};
\node[tp] (f2b1) at (1941,492) {由服务器发起};
\node[tp] (f2b1a) at (2002,492) {告诉浏览器，我接收完请求报文了，我准备关\\闭，你也准备吧};
\node[tp] (f2b2) at (1941,506) {ack M+1};
\node[tp] (f2c) at (1886,535) {第三次挥手};
\node[tp] (f2c1) at (1941,528) {由服务器发起};
\node[tp] (f2c1a) at (2002,528) {告诉浏览器，我响应报文发送完毕，你准备关闭\\吧};
\node[tp] (f2c2) at (1941,542) {FIN K};
\node[tp] (f2d) at (1886,571) {第四次挥手};
\node[tp] (f2d1) at (1941,564) {由浏览器发起};
\node[tp] (f2d1a) at (2002,564) {告诉服务器，我响应报文接收完毕，我准备关\\闭，你也准备吧};
\node[tp] (f2d2) at (1941,578) {ACK ack = K + 1};
\foreach \pa/\ch in {srvR/v1,srvR/v2,srvR/v3,srvR/v4,finR/f1,finR/f2,f1/f1a,f2/f2a,f2/f2b,f2/f2c,f2/f2d,
  f2a/f2a1,f2a/f2a2,f2a1/f2a1a,f2b/f2b1,f2b/f2b2,f2b1/f2b1a,f2c/f2c1,f2c/f2c2,f2c1/f2c1a,
  f2d/f2d1,f2d/f2d2,f2d1/f2d1a}{\rcon{\pa}{\ch}}
\end{scope}

%% ---------- main branches, thick at the root ----------
\branchfill{yel}{(root.north)+(-4,0)}{(0,-346)}{(48,0)}{web.east}{0.6}
\branchfill{brred}{(root.north)+(-9,0)}{(0,-136)}{(43,0)}{br.east}{0.6}
\branchfill{salmon}{(root.north)+(3,0)}{(0,-216)}{(-46,0)}{cs.west}{-0.6}
\branchfill{yel}{(root.north)+(8,0)}{(0,-166)}{(-41,0)}{pr.west}{-0.6}
\branchfill{grn}{(root.north)+(14,0)}{(0,-96)}{(-46,0)}{dns.west}{-0.6}
\branchfill{blu}{(root.north east)+(-44,0)}{(10,-30)}{(-30,0)}{tcp.west}{-0.6}
\branchfill{navy}{(root.south)+(5,0)}{(0,224)}{(-46,0)}{ht.west}{0.6}
\branchfill{purp}{(root.south)+(-5,0)}{(0,374)}{(52,0)}{url.east}{-0.6}

%% ---------- relations ----------
\draw[rel, draw=gry] ($(u5.north)+(12,0)$) .. controls (1640,350) and (1680,300) .. (srv.south west);
\draw[rel, draw=gry] (u6.east) .. controls (1700,425) and (1760,440) .. ($(fin.north west)+(9,0)$);
\draw[rel, draw=gry] ($(u3.south west)+(14,0)$) .. controls (1500,480) and (1440,600) .. ($(tcp.north)+(20,0)$);
\draw[rel, draw=gry] ($(u4.south west)+(10,0)$) .. controls (1497,600) and (1490,1000) .. ($(ht.north)+(10,0)$);
\draw[rel, draw=gry] (g1b2a.west) .. controls (1600,900) and (1540,960) .. (g2.north east);
\draw[rel, draw=gry] (n2b.west) .. controls (1250,470) and (800,560) .. (c4a1.south);
\draw[rel, draw=boxred] ($(u1.south west)+(8,0)$) .. controls (1420,520) and (1250,1050) .. (ua.north east);
\draw[rel, draw=boxred] ($(u2.south west)+(16,0)$) .. controls (1575,400) and (1565,450) .. ($(n1b.north west)+(70,0)$);
\draw[rel, draw=boxred] (u7.west) .. controls (1380,460) and (1200,688) .. (stp.east);
\end{tikzpicture}
\end{document}
